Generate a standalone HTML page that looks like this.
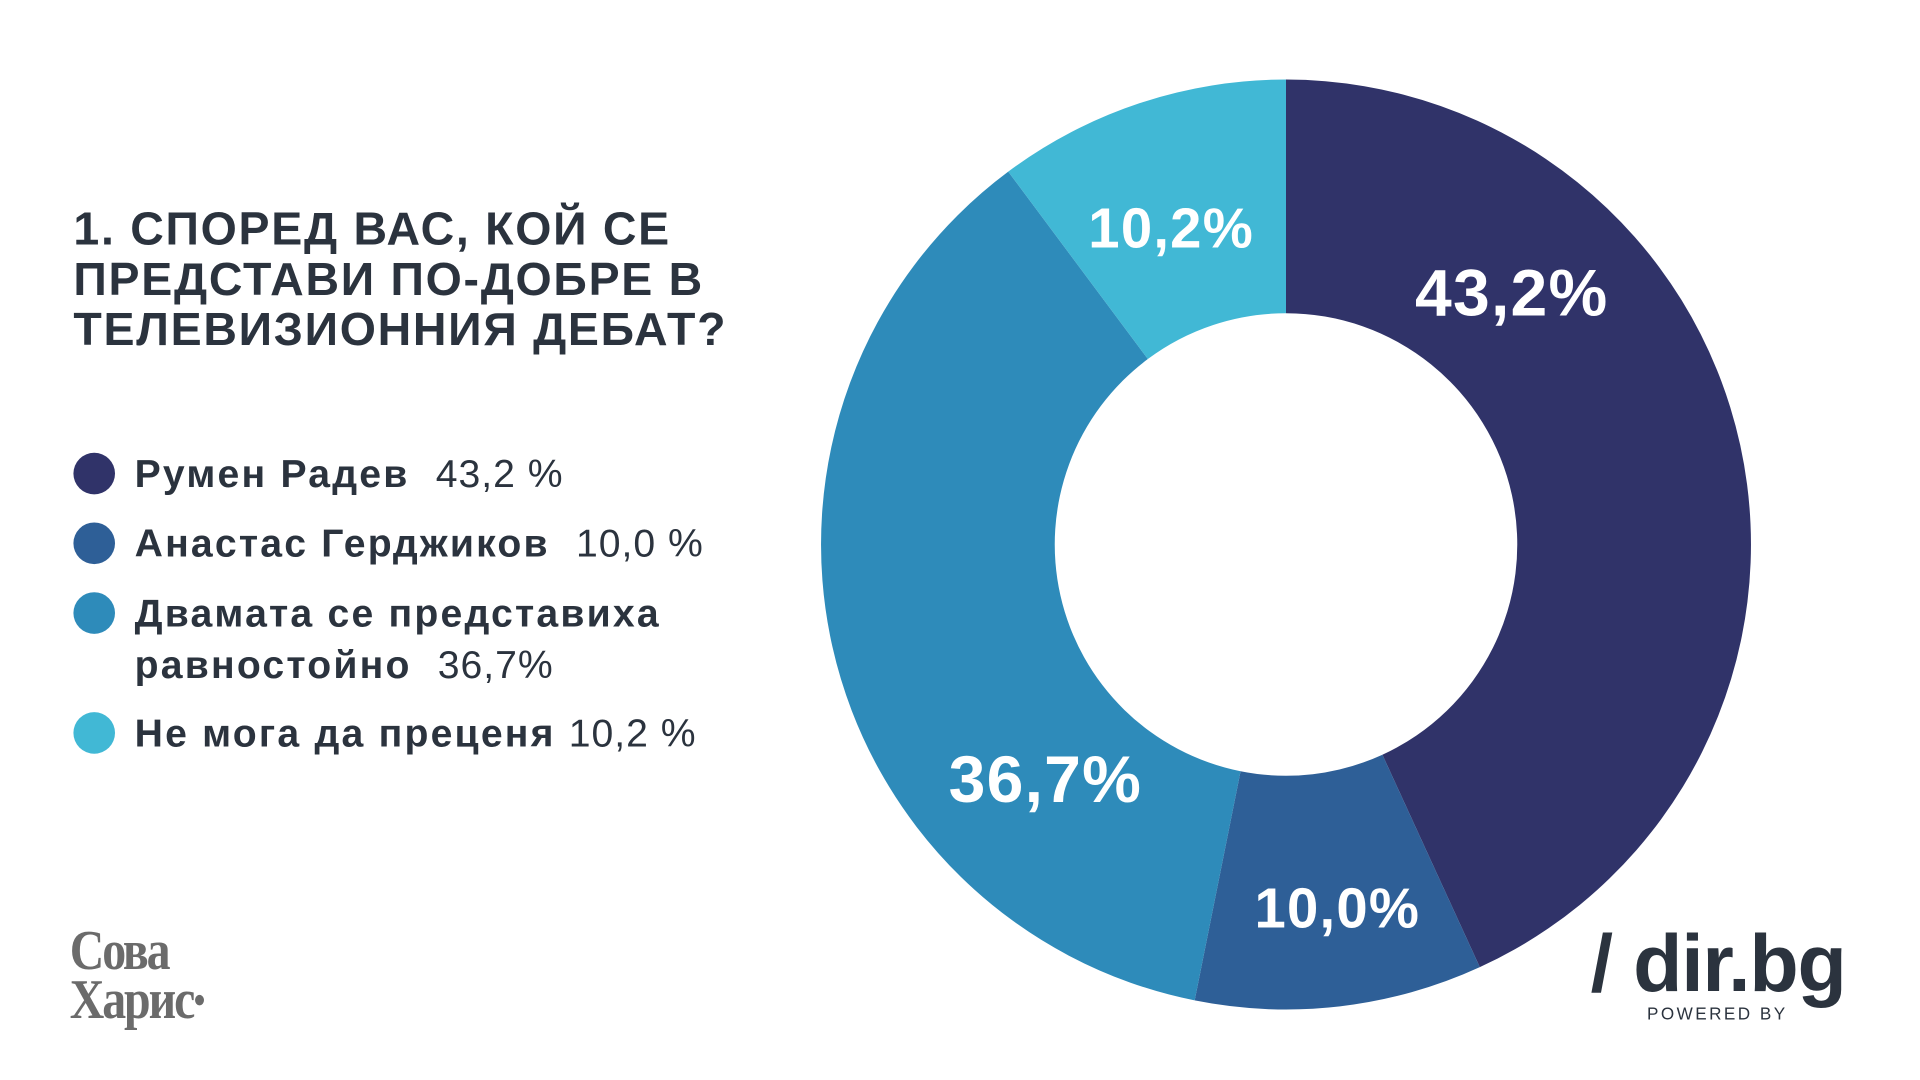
<!DOCTYPE html>
<html><head><meta charset="utf-8">
<style>
html,body{margin:0;padding:0;background:#fff;width:1920px;height:1080px;overflow:hidden}
#stage{position:absolute;left:0;top:0;width:1570px;height:883px;transform:scale(1.2236);transform-origin:0 0;font-family:"Liberation Sans","DejaVu Sans",sans-serif;color:#2b333e}
.title{position:absolute;left:60px;top:168px;font-size:38px;font-weight:bold;line-height:41px;letter-spacing:1.4px}
.leg{position:absolute;left:60px;font-size:32px;font-weight:bold;line-height:42px;letter-spacing:1.8px}
.leg .dot{position:absolute;left:0;top:4px;width:34px;height:34px;border-radius:50%}
.leg .txt{position:absolute;left:50px;top:0;white-space:nowrap}
.leg .v{font-weight:normal;letter-spacing:0.8px}
</style></head><body>
<div id="stage">
<div class="title">1. СПОРЕД ВАС, КОЙ СЕ<br>ПРЕДСТАВИ ПО-ДОБРЕ В<br>ТЕЛЕВИЗИОННИЯ ДЕБАТ?</div>
<div class="leg" style="top:366px"><div class="dot" style="background:#303369"></div><div class="txt">Румен Радев&nbsp; <span class="v">43,2 %</span></div></div>
<div class="leg" style="top:423px"><div class="dot" style="background:#2e5f97"></div><div class="txt">Анастас Герджиков&nbsp; <span class="v">10,0 %</span></div></div>
<div class="leg" style="top:480px"><div class="dot" style="background:#2e8bba"></div><div class="txt">Двамата се представиха<br>равностойно&nbsp; <span class="v">36,7%</span></div></div>
<div class="leg" style="top:578px"><div class="dot" style="background:#41b8d5"></div><div class="txt">Не мога да преценя <span class="v">10,2 %</span></div></div>
<svg id="donut" width="1570" height="883" style="position:absolute;left:0;top:0"></svg>
<div style="position:absolute;left:57px;top:757px;font-family:'Liberation Serif',serif;font-weight:bold;font-size:46px;line-height:40px;color:#6b6b6b;letter-spacing:-2px;transform:scaleX(0.85);transform-origin:0 0">Сова<br>Харис<span style="font-size:20px;vertical-align:top">●</span></div>
<div style="position:absolute;left:1300px;top:752px;font-size:66px;font-weight:bold;color:#2b333e;line-height:70px;letter-spacing:-1px">/ dir.bg</div>
<div style="position:absolute;left:1346px;top:820px;font-size:14px;color:#2b333e;letter-spacing:2px">POWERED BY</div>
</div>
<script>
const categories=["Румен Радев","Анастас Герджиков","Двамата се представиха равностойно","Не мога да преценя"];
const values=[43.2,10.0,36.7,10.2];
const labels=["43,2%","10,0%","36,7%","10,2%"];
const colors=["#303369","#2e5f97","#2e8bba","#41b8d5"];
const labelFrac=[0.27,0.46,0.26,0.46];
const labelRad=[276,298,275,277];
const svg=document.getElementById('donut');
const NS='http://www.w3.org/2000/svg';
const cx=1051,cy=445,R=380,r=189;
const total=values.reduce((a,b)=>a+b,0);
function pt(a,rad){return [cx+rad*Math.sin(a),cy-rad*Math.cos(a)];}
let acc=0;
values.forEach((v,i)=>{
  const a0=acc/total*2*Math.PI;acc+=v;const a1=acc/total*2*Math.PI;
  const large=(a1-a0)>Math.PI?1:0;
  const p0=pt(a0,R),p1=pt(a1,R),q1=pt(a1,r),q0=pt(a0,r);
  const path=document.createElementNS(NS,'path');
  path.setAttribute('d',`M${p0[0]},${p0[1]} A${R},${R} 0 ${large} 1 ${p1[0]},${p1[1]} L${q1[0]},${q1[1]} A${r},${r} 0 ${large} 0 ${q0[0]},${q0[1]} Z`);
  path.setAttribute('fill',colors[i]);
  
  
  svg.appendChild(path);
  const am=a0+(a1-a0)*labelFrac[i];
  const lp=pt(am,labelRad[i]);
  const t=document.createElementNS(NS,'text');
  t.setAttribute('x',lp[0]);t.setAttribute('y',lp[1]+18);
  t.setAttribute('text-anchor','middle');t.setAttribute('fill','#fff');
  t.setAttribute('font-size',v>30?'54':'46');t.setAttribute('font-weight','bold');
  t.setAttribute('letter-spacing','1');
  t.setAttribute('font-family','Liberation Sans, sans-serif');
  t.textContent=labels[i];
  
  
  svg.appendChild(t);
});
</script>
</body></html>
